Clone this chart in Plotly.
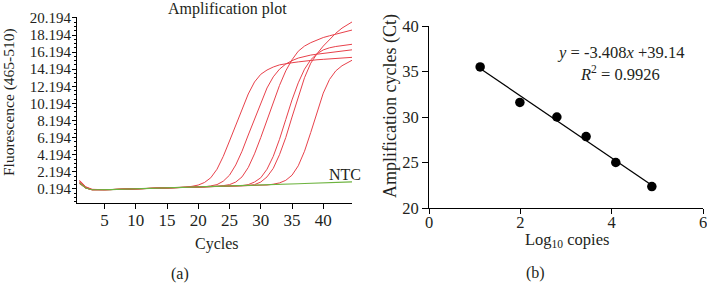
import plotly.graph_objects as go

# ---------------- data: panel (a) amplification curves ----------------
cycles = list(range(1, 46))

curve_1 = [1.1, 0.4, 0.12, 0.08, 0.1, 0.12, 0.14, 0.16, 0.18, 0.2, 0.22, 0.24, 0.26, 0.28, 0.3, 0.32, 0.35, 0.4, 0.5,
           0.65, 0.95, 1.5, 2.5, 4.0, 5.8, 7.7, 9.6, 11.3, 12.7, 13.6, 14.1, 14.45, 14.7, 14.85, 14.95, 15.05, 15.15,
           15.25, 15.3, 15.35, 15.4, 15.45, 15.5, 15.55, 15.6]
curve_2 = [0.9, 0.3, 0.1, 0.08, 0.1, 0.12, 0.14, 0.16, 0.18, 0.2, 0.22, 0.24, 0.26, 0.28, 0.3, 0.32, 0.34, 0.36, 0.38,
           0.4, 0.45, 0.55, 0.7, 1.1, 1.8, 3.0, 4.6, 6.5, 8.4, 10.3, 12.0, 13.3, 14.2, 14.8, 15.2, 15.5, 15.7, 15.85,
           15.95, 16.05, 16.15, 16.25, 16.35, 16.45, 16.5]
curve_3 = [1.2, 0.45, 0.15, 0.1, 0.1, 0.12, 0.14, 0.16, 0.18, 0.2, 0.22, 0.24, 0.26, 0.28, 0.3, 0.32, 0.34, 0.36, 0.38,
           0.4, 0.42, 0.45, 0.5, 0.58, 0.7, 1.0, 1.6, 2.7, 4.3, 6.2, 8.2, 10.3, 12.3, 14.0, 15.3, 16.3, 16.9, 17.3,
           17.6, 17.9, 18.1, 18.3, 18.5, 18.7, 18.85]
curve_4 = [0.8, 0.3, 0.1, 0.08, 0.1, 0.12, 0.14, 0.16, 0.18, 0.2, 0.22, 0.24, 0.26, 0.28, 0.3, 0.32, 0.34, 0.36, 0.38,
           0.4, 0.42, 0.44, 0.46, 0.48, 0.5, 0.53, 0.58, 0.7, 1.0, 1.5, 2.5, 4.0, 6.0, 8.3, 10.6, 12.6, 14.2, 15.3,
           16.0, 16.45, 16.7, 16.85, 16.95, 17.05, 17.15]
curve_5 = [1.0, 0.35, 0.12, 0.08, 0.1, 0.12, 0.14, 0.16, 0.18, 0.2, 0.22, 0.24, 0.26, 0.28, 0.3, 0.32, 0.34, 0.36, 0.38,
           0.4, 0.42, 0.44, 0.46, 0.48, 0.5, 0.52, 0.55, 0.6, 0.7, 1.0, 1.6, 2.6, 4.2, 6.2, 8.6, 11.0, 13.2, 14.9,
           16.0, 16.9, 17.7, 18.4, 19.0, 19.5, 19.9]
curve_6 = [0.9, 0.3, 0.1, 0.08, 0.1, 0.12, 0.14, 0.16, 0.18, 0.2, 0.22, 0.24, 0.26, 0.28, 0.3, 0.32, 0.34, 0.36, 0.38,
           0.4, 0.42, 0.44, 0.46, 0.48, 0.5, 0.52, 0.54, 0.56, 0.58, 0.6, 0.65, 0.75, 0.9, 1.2, 1.8, 2.9, 4.6, 6.8,
           9.2, 11.4, 13.0, 14.0, 14.6, 15.05, 15.4]
ntc = [0.9, 0.3, 0.1, 0.08, 0.1, 0.12, 0.14, 0.16, 0.18, 0.2, 0.22, 0.24, 0.26, 0.28, 0.3, 0.32, 0.34, 0.36, 0.38,
       0.4, 0.42, 0.44, 0.46, 0.48, 0.5, 0.52, 0.54, 0.56, 0.58, 0.62, 0.65, 0.68, 0.71, 0.74, 0.77, 0.8, 0.83, 0.86,
       0.89, 0.92, 0.95, 0.98, 1.0, 1.02, 1.04]
red_curves = [curve_1, curve_2, curve_3, curve_4, curve_5, curve_6]

y_tick_vals_a = [0.194, 2.194, 4.194, 6.194, 8.194, 10.194, 12.194, 14.194, 16.194, 18.194, 20.194]
y_tick_text_a = ["0.194", "2.194", "4.194", "6.194", "8.194", "10.194", "12.194", "14.194", "16.194", "18.194", "20.194"]
x_tick_vals_a = [5, 10, 15, 20, 25, 30, 35, 40]

# ---------------- data: panel (b) standard curve ----------------
log_copies = [1.12, 1.99, 2.80, 3.44, 4.09, 4.88]
ct_values = [35.5, 31.6, 30.0, 27.85, 25.0, 22.35]
fit_slope = -3.408
fit_intercept = 39.14
x_tick_vals_b = [0, 2, 4, 6]
y_tick_vals_b = [20, 25, 30, 35, 40]

FONT = "Liberation Serif"
TXT = "#231f20"
RED = "#e8414b"
GREEN = "#6db33f"

fig = go.Figure()

for c in red_curves:
    fig.add_trace(go.Scatter(x=cycles, y=c, mode="lines", line=dict(color=RED, width=1),
                             xaxis="x", yaxis="y", showlegend=False, hoverinfo="skip"))
fig.add_trace(go.Scatter(x=cycles, y=ntc, mode="lines", line=dict(color=GREEN, width=1.2),
                         xaxis="x", yaxis="y", showlegend=False, hoverinfo="skip"))

fit_x = [min(log_copies), max(log_copies)]
fit_y = [fit_slope * v + fit_intercept for v in fit_x]
fig.add_trace(go.Scatter(x=fit_x, y=fit_y, mode="lines", line=dict(color="black", width=1.3),
                         xaxis="x2", yaxis="y2", showlegend=False))
fig.add_trace(go.Scatter(x=log_copies, y=ct_values, mode="markers",
                         marker=dict(color="black", size=9.5),
                         xaxis="x2", yaxis="y2", showlegend=False))

W, H = 707, 284
def px(x):
    return x / W
def py(y):
    return 1 - y / H

def axis_common(size):
    return dict(showgrid=False, zeroline=False, showline=True, linecolor="black", linewidth=1,
                ticks="outside", tickcolor="black", tickwidth=1, automargin=False,
                ticklabeloverflow="allow",
                tickfont=dict(family=FONT, size=size, color=TXT))

fig.update_layout(
    width=W, height=H,
    margin=dict(l=0, r=0, t=0, b=0),
    paper_bgcolor="white", plot_bgcolor="white",
    xaxis=dict(domain=[px(77), px(352)], range=[0.6, 44.6], anchor="y",
               tickvals=x_tick_vals_a, ticklen=5, ticklabelstandoff=-3, **axis_common(17)),
    yaxis=dict(domain=[py(203), py(17)], range=[-1.45, 20.3], anchor="x",
               tickvals=y_tick_vals_a, ticktext=y_tick_text_a, ticklen=4, ticklabelstandoff=-2,
               minor=dict(tick0=0.194, dtick=0.5, ticklen=2, ticks="outside", tickcolor="black"),
               **axis_common(15)),
    xaxis2=dict(domain=[px(429), px(703)], range=[0, 6], anchor="y2",
                tickvals=x_tick_vals_b, ticklen=5, ticklabelstandoff=-6, **axis_common(16.5)),
    yaxis2=dict(domain=[py(208), py(26)], range=[20, 40], anchor="x2",
                tickvals=y_tick_vals_b, ticklen=6, **axis_common(16.5)),
)

def note(text, x, y, size=15, angle=0, xanchor="center"):
    fig.add_annotation(text=text, x=px(x), y=py(y), xref="paper", yref="paper",
                       showarrow=False, xanchor=xanchor, yanchor="middle", textangle=angle,
                       font=dict(family=FONT, size=size, color=TXT))

note("Amplification plot", 228, 9, size=16)
note("Cycles", 217, 244, size=16)
note("(a)", 180, 274, size=16)
note("NTC", 327, 174, size=16, xanchor="left")
note("Fluorescence (465-510)", 9, 102, size=15.5, angle=-90)

note("<i>y</i> = -3.408<i>x</i> +39.14", 620, 53, size=16.5)
note("<i>R</i><sup>2</sup> = 0.9926", 620, 73, size=16.5)
note("Log<sub>10</sub> copies", 567, 240, size=16.5)
note("Amplification cycles (Ct)", 391, 106, size=18, angle=-90)
note("(b)", 535, 273, size=16)

fig.write_html("out.html", config={"displayModeBar": False},
               post_script="document.body.style.margin='0';")
